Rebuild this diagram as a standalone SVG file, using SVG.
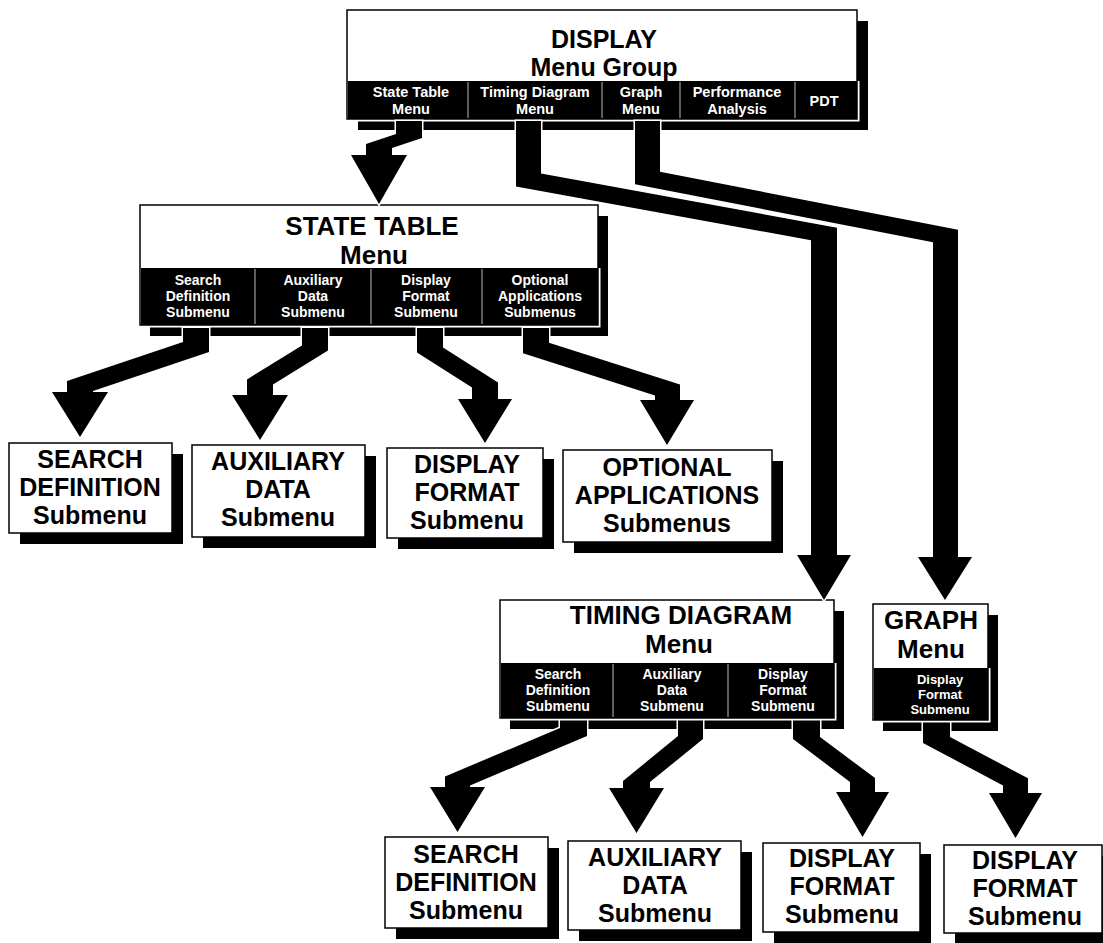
<svg xmlns="http://www.w3.org/2000/svg" width="1103" height="943" viewBox="0 0 1103 943">
<style>
.bg{fill:#fff}
.shadow{fill:#000}
.halo{fill:#fff}
.box{fill:#fff;stroke:#000;stroke-width:1.5}
.bar{fill:#000}
.div{stroke:#bbb;stroke-width:1}
text{font-family:"Liberation Sans",Arial,Helvetica,sans-serif;font-weight:bold;text-anchor:middle}
.title{font-size:25px;fill:#000}
.tab{font-size:14px;fill:#fff}
.tab13{font-size:13px;fill:#fff}
.tab15{font-size:14.5px;fill:#fff}
.label{font-size:25px;fill:#000}
.arrow{fill:#000;stroke:#fff;stroke-width:3;paint-order:stroke;stroke-linejoin:miter}
</style>
<rect class="bg" x="0" y="0" width="1103" height="943"/>

<g id="display-menu">
  <rect class="shadow" x="358" y="21" width="510" height="109"/>
  <rect class="halo" x="344.5" y="81" width="515" height="40.5"/>
  <rect class="box" x="347" y="10" width="510" height="109"/>
  <rect class="bar" x="348" y="81" width="509" height="38"/>
  <line class="div" x1="468" y1="82" x2="468" y2="118"/>
  <line class="div" x1="602" y1="82" x2="602" y2="118"/>
  <line class="div" x1="680" y1="82" x2="680" y2="118"/>
  <line class="div" x1="795" y1="82" x2="795" y2="118"/>
  <text class="title" x="604" y="48">DISPLAY</text>
  <text class="title" x="604" y="76">Menu Group</text>
  <text class="tab15" x="411" y="97">State Table</text>
  <text class="tab15" x="411" y="114">Menu</text>
  <text class="tab15" x="535" y="97">Timing Diagram</text>
  <text class="tab15" x="535" y="114">Menu</text>
  <text class="tab15" x="641" y="97">Graph</text>
  <text class="tab15" x="641" y="114">Menu</text>
  <text class="tab15" x="737" y="97">Performance</text>
  <text class="tab15" x="737" y="114">Analysis</text>
  <text class="tab15" x="824" y="106">PDT</text>
</g>

<g id="state-table-menu">
  <rect class="shadow" x="150" y="216" width="458" height="120"/>
  <rect class="halo" x="137.5" y="268" width="463" height="59.5"/>
  <rect class="box" x="140" y="205" width="458" height="120"/>
  <rect class="bar" x="141" y="268" width="457" height="57"/>
  <line class="div" x1="255" y1="269" x2="255" y2="324"/>
  <line class="div" x1="371" y1="269" x2="371" y2="324"/>
  <line class="div" x1="482" y1="269" x2="482" y2="324"/>
  <text class="title" x="372" y="235" style="font-size:26px">STATE TABLE</text>
  <text class="title" x="374" y="264" style="font-size:26px">Menu</text>
  <text class="tab" x="198" y="285">Search</text>
  <text class="tab" x="198" y="301">Definition</text>
  <text class="tab" x="198" y="317">Submenu</text>
  <text class="tab" x="313" y="285">Auxiliary</text>
  <text class="tab" x="313" y="301">Data</text>
  <text class="tab" x="313" y="317">Submenu</text>
  <text class="tab" x="426" y="285">Display</text>
  <text class="tab" x="426" y="301">Format</text>
  <text class="tab" x="426" y="317">Submenu</text>
  <text class="tab" x="540" y="285">Optional</text>
  <text class="tab" x="540" y="301">Applications</text>
  <text class="tab" x="540" y="317">Submenus</text>
</g>

<g id="st-search-definition">
  <rect class="shadow" x="20" y="454" width="163" height="90"/>
  <rect class="box" x="9" y="443" width="163" height="90"/>
  <text class="label" x="90" y="468">SEARCH</text>
  <text class="label" x="90" y="496">DEFINITION</text>
  <text class="label" x="90" y="524">Submenu</text>
</g>
<g id="st-auxiliary-data">
  <rect class="shadow" x="203" y="456" width="173" height="92"/>
  <rect class="box" x="192" y="445" width="173" height="92"/>
  <text class="label" x="278" y="470">AUXILIARY</text>
  <text class="label" x="278" y="498">DATA</text>
  <text class="label" x="278" y="526">Submenu</text>
</g>
<g id="st-display-format">
  <rect class="shadow" x="398" y="459" width="156" height="90"/>
  <rect class="box" x="387" y="448" width="156" height="90"/>
  <text class="label" x="467" y="473">DISPLAY</text>
  <text class="label" x="467" y="501">FORMAT</text>
  <text class="label" x="467" y="529">Submenu</text>
</g>
<g id="st-optional-applications">
  <rect class="shadow" x="574" y="461" width="209" height="92"/>
  <rect class="box" x="563" y="450" width="209" height="92"/>
  <text class="label" x="667" y="476">OPTIONAL</text>
  <text class="label" x="667" y="504">APPLICATIONS</text>
  <text class="label" x="667" y="532">Submenus</text>
</g>

<g id="timing-diagram-menu">
  <rect class="shadow" x="510" y="611" width="334" height="118"/>
  <rect class="halo" x="497.5" y="663" width="339" height="57.5"/>
  <rect class="box" x="500" y="600" width="334" height="118"/>
  <rect class="bar" x="501" y="663" width="333" height="55"/>
  <line class="div" x1="613" y1="664" x2="613" y2="717"/>
  <line class="div" x1="728" y1="664" x2="728" y2="717"/>
  <text class="title" x="681" y="624" style="font-size:26px">TIMING DIAGRAM</text>
  <text class="title" x="679" y="653" style="font-size:26px">Menu</text>
  <text class="tab" x="558" y="679">Search</text>
  <text class="tab" x="558" y="695">Definition</text>
  <text class="tab" x="558" y="711">Submenu</text>
  <text class="tab" x="672" y="679">Auxiliary</text>
  <text class="tab" x="672" y="695">Data</text>
  <text class="tab" x="672" y="711">Submenu</text>
  <text class="tab" x="783" y="679">Display</text>
  <text class="tab" x="783" y="695">Format</text>
  <text class="tab" x="783" y="711">Submenu</text>
</g>

<g id="graph-menu">
  <rect class="shadow" x="883" y="615" width="115" height="116"/>
  <rect class="halo" x="870.5" y="668" width="120" height="54.5"/>
  <rect class="box" x="873" y="604" width="115" height="116"/>
  <rect class="bar" x="874" y="668" width="114" height="52"/>
  <text class="title" x="931" y="629" style="font-size:26px">GRAPH</text>
  <text class="title" x="931" y="658" style="font-size:26px">Menu</text>
  <text class="tab13" x="940" y="684">Display</text>
  <text class="tab13" x="940" y="699">Format</text>
  <text class="tab13" x="940" y="714">Submenu</text>
</g>

<g id="td-search-definition">
  <rect class="shadow" x="396" y="848" width="163" height="91"/>
  <rect class="box" x="385" y="837" width="163" height="91"/>
  <text class="label" x="466" y="863">SEARCH</text>
  <text class="label" x="466" y="891">DEFINITION</text>
  <text class="label" x="466" y="919">Submenu</text>
</g>
<g id="td-auxiliary-data">
  <rect class="shadow" x="579" y="852" width="173" height="89"/>
  <rect class="box" x="568" y="841" width="173" height="89"/>
  <text class="label" x="655" y="866">AUXILIARY</text>
  <text class="label" x="655" y="894">DATA</text>
  <text class="label" x="655" y="922">Submenu</text>
</g>
<g id="td-display-format">
  <rect class="shadow" x="774" y="854" width="157" height="89"/>
  <rect class="box" x="763" y="843" width="157" height="89"/>
  <text class="label" x="842" y="867">DISPLAY</text>
  <text class="label" x="842" y="895">FORMAT</text>
  <text class="label" x="842" y="923">Submenu</text>
</g>
<g id="graph-display-format">
  <rect class="shadow" x="955" y="856" width="158" height="88"/>
  <rect class="box" x="944" y="845" width="158" height="88"/>
  <text class="label" x="1025" y="869">DISPLAY</text>
  <text class="label" x="1025" y="897">FORMAT</text>
  <text class="label" x="1025" y="925">Submenu</text>
</g>

<g id="connectors">
  <polygon class="arrow" points="396,121 422,121 422,138 392,148 392,155 407,155 379,204 351,155 366,155 366,144 396,134"/>
  <polygon class="arrow" points="516,121 541,121 541,173.6 837,227.7 837,555 851,555 824,600 797,555 811,555 811,240.2 516,186.4"/>
  <polygon class="arrow" points="635,121 660,121 660,171.8 958,229.8 958,557 972,557 945,600 918,557 933,557 933,242.2 635,184.2"/>
  <polygon class="arrow" points="183,328 209,328 209,352 93,391 93,392 108,392 80,437 52,392 67,392 67,381 183,342"/>
  <polygon class="arrow" points="302,328 328,328 328,350.6 273,384.6 273,395 288,395 260,440 232,395 247,395 247,379.4 302,345.4"/>
  <polygon class="arrow" points="417,328 443,328 443,347.6 498,382.5 498,399 512,399 485,443 458,399 472,399 472,387.4 417,352.4"/>
  <polygon class="arrow" points="523,328 549,328 549,342.7 680,384.6 680,400 694,400 667,445 640,400 655,400 655,395.5 523,353.3"/>
  <polygon class="arrow" points="560,720.5 587,720.5 587,736.1 470,785.4 470,787 485,787 457.5,832 430,787 445,787 445,776.5 560,727.9"/>
  <polygon class="arrow" points="678,720.5 703,720.5 703,738.9 650,782.1 650,788 664,788 636.5,833 609,788 623,788 623,780.9 678,736.1"/>
  <polygon class="arrow" points="793,720.5 820,720.5 820,736.9 875,778.1 875,792 889,792 862.5,837 836,792 850,792 850,781.9 793,739.1"/>
  <polygon class="arrow" points="923,722.5 950,722.5 950,737 1028,778.3 1028,793 1042,793 1015.5,838 989,793 1003,793 1003,785.4 923,743"/>
</g>
</svg>
